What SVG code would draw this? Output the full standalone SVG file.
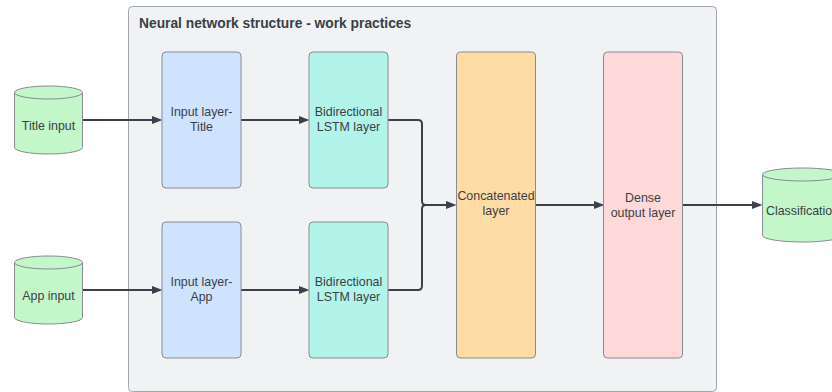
<svg xmlns="http://www.w3.org/2000/svg" width="832" height="392" viewBox="0 0 832 392">
  <style>
    .lbl { font-family: "Liberation Sans", Arial, sans-serif; font-size: 12.4px; fill: #3a3f47; text-anchor: middle; }
    .ttl { font-family: "Liberation Sans", Arial, sans-serif; font-size: 13.8px; font-weight: bold; fill: #3a3f47; }
    .box { stroke: #868b93; stroke-width: 1; }
    .cyl { fill: #c3f6c8; stroke: #868b93; stroke-width: 1; }
    .in  { fill: #cfe3fe; }
    .lstm { fill: #b3f4ea; }
    .cat { fill: #fedca5; }
    .dense { fill: #ffd8da; }
    .wire { fill: none; stroke: #3a414a; stroke-width: 2; }
  </style>
  <defs>
    <marker id="arrow" markerUnits="userSpaceOnUse" markerWidth="12" markerHeight="10" refX="4" refY="4.5" orient="auto">
      <path d="M0,0.5 L10.5,4.5 L0,8.5 Z" fill="#3a414a"/>
    </marker>
  </defs>

  <!-- container -->
  <g id="container">
    <rect x="128.5" y="6.5" width="588" height="385" rx="4" fill="#f1f2f4" stroke="#a1a6ad" stroke-width="1"/>
    <text class="ttl" x="139" y="28">Neural network structure - work practices</text>
  </g>

  <!-- connectors -->
  <g id="connectors">
    <path class="wire" d="M82,120 H156" marker-end="url(#arrow)"/>
    <path class="wire" d="M241,120 H303" marker-end="url(#arrow)"/>
    <path class="wire" d="M82,290 H156" marker-end="url(#arrow)"/>
    <path class="wire" d="M241,290 H303" marker-end="url(#arrow)"/>
    <path class="wire" d="M388,120 H418 Q422,120 422,124 V201 Q422,205 426,205 H450" marker-end="url(#arrow)"/>
    <path class="wire" d="M388,290 H418 Q422,290 422,286 V209 Q422,205 426,205 H440"/>
    <path class="wire" d="M535,205 H598" marker-end="url(#arrow)"/>
    <path class="wire" d="M683,205 H756" marker-end="url(#arrow)"/>
  </g>

  <!-- data sources -->
  <g id="title-input">
    <path class="cyl" d="M14.5,92.5 A34,6.5 0 0 1 82.5,92.5 V147.5 A34,6.5 0 0 1 14.5,147.5 Z"/>
    <path class="cyl" d="M14.5,92.5 A34,6.5 0 0 0 82.5,92.5" fill="none"/>
    <text class="lbl" x="48.5" y="129.5">Title input</text>
  </g>
  <g id="app-input">
    <path class="cyl" d="M14.5,262.5 A34,6.5 0 0 1 82.5,262.5 V317.5 A34,6.5 0 0 1 14.5,317.5 Z"/>
    <path class="cyl" d="M14.5,262.5 A34,6.5 0 0 0 82.5,262.5" fill="none"/>
    <text class="lbl" x="48.5" y="299.5">App input</text>
  </g>
  <g id="classification">
    <path class="cyl" d="M762.5,174.5 A40,6.5 0 0 1 842.5,174.5 V235.5 A40,6.5 0 0 1 762.5,235.5 Z"/>
    <path class="cyl" d="M762.5,174.5 A40,6.5 0 0 0 842.5,174.5" fill="none"/>
    <text class="lbl" x="802.5" y="214.5">Classification</text>
  </g>

  <!-- layers -->
  <g id="input-layer-title">
    <rect class="box in" x="162" y="52" width="79" height="136" rx="4"/>
    <text class="lbl" x="201.5" y="115.5">Input layer-</text>
    <text class="lbl" x="201.5" y="130.5">Title</text>
  </g>
  <g id="lstm-title">
    <rect class="box lstm" x="309" y="52" width="79" height="136" rx="4"/>
    <text class="lbl" x="348.5" y="115.5">Bidirectional</text>
    <text class="lbl" x="348.5" y="130.5">LSTM layer</text>
  </g>
  <g id="input-layer-app">
    <rect class="box in" x="162" y="222" width="79" height="136" rx="4"/>
    <text class="lbl" x="201.5" y="285.5">Input layer-</text>
    <text class="lbl" x="201.5" y="300.5">App</text>
  </g>
  <g id="lstm-app">
    <rect class="box lstm" x="309" y="222" width="79" height="136" rx="4"/>
    <text class="lbl" x="348.5" y="285.5">Bidirectional</text>
    <text class="lbl" x="348.5" y="300.5">LSTM layer</text>
  </g>
  <g id="concatenated">
    <rect class="box cat" x="456.5" y="52" width="79" height="306" rx="4"/>
    <text class="lbl" x="496" y="200">Concatenated</text>
    <text class="lbl" x="496" y="215">layer</text>
  </g>
  <g id="dense-output">
    <rect class="box dense" x="603.5" y="52" width="79" height="306" rx="4"/>
    <text class="lbl" x="643" y="201.5">Dense</text>
    <text class="lbl" x="643" y="216.5">output layer</text>
  </g>
</svg>
